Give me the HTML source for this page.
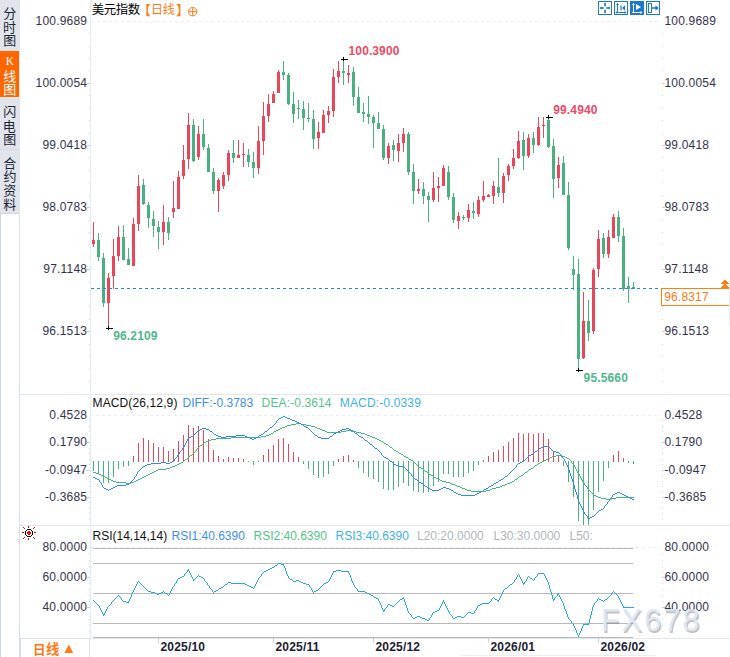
<!DOCTYPE html>
<html><head><meta charset="utf-8"><title>chart</title>
<style>html,body{margin:0;padding:0;background:#fff;width:730px;height:657px;overflow:hidden}</style></head>
<body>
<svg width="730" height="657" viewBox="0 0 730 657" style="position:absolute;left:0;top:0;font-family:'Liberation Sans',sans-serif">
<rect width="730" height="657" fill="#fff"/>
<g shape-rendering="crispEdges">
<rect x="0" y="0" width="20" height="213" fill="#e2e4ec"/>
<rect x="0" y="51" width="19" height="46" fill="#ff6600"/>
<rect x="0" y="149" width="20" height="1" fill="#d4dce4"/>
<rect x="0" y="213" width="20" height="1" fill="#ced6df"/>
<rect x="0" y="213" width="1" height="444" fill="#ccd4dd"/>
<rect x="19" y="213" width="1" height="444" fill="#d8dee6"/><rect x="20" y="639" width="1" height="18" fill="#d8dee6"/>
<rect x="20" y="394" width="710" height="1" fill="#e3e8ee"/>
<rect x="20" y="525" width="710" height="1" fill="#e3e8ee"/>
<rect x="20" y="638" width="710" height="1" fill="#e3e8ee"/>
<rect x="461" y="655" width="195" height="1" fill="#eceff3"/>
<rect x="90" y="0" width="1" height="638" fill="#e4ebf1"/>
<rect x="89" y="638" width="1" height="19" fill="#dde1e8"/>
<rect x="729" y="280" width="1" height="45" fill="#e6eff9"/>
</g>
<text x="3.27" y="17.85" font-family="'Liberation Sans','Noto Sans CJK SC',sans-serif" font-size="13" fill="#1c2636">分</text>
<text x="3.02" y="32.42" font-family="'Liberation Sans','Noto Sans CJK SC',sans-serif" font-size="13" fill="#1c2636">时</text>
<text x="3.29" y="45.3" font-family="'Liberation Sans','Noto Sans CJK SC',sans-serif" font-size="13" fill="#1c2636">图</text>
<text x="10" y="65.3" font-family="'Liberation Serif',serif" font-size="11.5" fill="#fff" text-anchor="middle">K</text>
<text x="3.24" y="80.97" font-family="'Liberation Sans','Noto Sans CJK SC',sans-serif" font-size="13" fill="#fff">线</text>
<text x="3.29" y="94.15" font-family="'Liberation Sans','Noto Sans CJK SC',sans-serif" font-size="13" fill="#fff">图</text>
<text x="3.3" y="116.28" font-family="'Liberation Sans','Noto Sans CJK SC',sans-serif" font-size="13" fill="#1c2636">闪</text>
<text x="2.73" y="130.64" font-family="'Liberation Sans','Noto Sans CJK SC',sans-serif" font-size="13" fill="#1c2636">电</text>
<text x="3.29" y="143.55" font-family="'Liberation Sans','Noto Sans CJK SC',sans-serif" font-size="13" fill="#1c2636">图</text>
<text x="3.24" y="167.97" font-family="'Liberation Sans','Noto Sans CJK SC',sans-serif" font-size="13" fill="#1c2636">合</text>
<text x="3.57" y="181.47" font-family="'Liberation Sans','Noto Sans CJK SC',sans-serif" font-size="13" fill="#1c2636">约</text>
<text x="3.31" y="194.7" font-family="'Liberation Sans','Noto Sans CJK SC',sans-serif" font-size="13" fill="#1c2636">资</text>
<text x="3.32" y="209.25" font-family="'Liberation Sans','Noto Sans CJK SC',sans-serif" font-size="13" fill="#1c2636">料</text>
<text x="91.7" y="14.25" font-family="'Liberation Sans','Noto Sans CJK SC',sans-serif" font-size="12.4" letter-spacing="-0.35" fill="#000">美元指数</text>
<text x="137.63" y="14.92" font-family="'Liberation Sans','Noto Sans CJK SC',sans-serif" font-size="13.2" fill="#ff7a14">【</text>
<text x="151.05" y="14.12" font-family="'Liberation Sans','Noto Sans CJK SC',sans-serif" font-size="12" fill="#ff7a14">日</text>
<text x="162.84" y="14.49" font-family="'Liberation Sans','Noto Sans CJK SC',sans-serif" font-size="12" fill="#ff7a14">线</text>
<text x="176.07" y="14.92" font-family="'Liberation Sans','Noto Sans CJK SC',sans-serif" font-size="13.2" fill="#ff7a14">】</text>
<g stroke="#ff7a14" stroke-width="1" fill="none"><circle cx="192.7" cy="11.7" r="4.2"/><path d="M188.5 11.7h8.4M192.7 7.5v8.4"/></g>
<rect x="598.5" y="1.5" width="13" height="13" fill="#fff" stroke="#1c78d2" stroke-width="1"/>
<g fill="#1c78d2"><rect x="600" y="7.1" width="3.5" height="1.8"/><rect x="606.5" y="7.1" width="3.5" height="1.8"/><rect x="604.2" y="3" width="1.7" height="3.3"/><rect x="604.2" y="9.7" width="1.7" height="3.3"/></g>
<rect x="614.5" y="1.5" width="13" height="13" fill="#fff" stroke="#1c78d2" stroke-width="1"/>
<g stroke="#1c78d2" fill="none" stroke-width="1"><path d="M617.5 3.5v9.5M616 12.5h10"/><path d="M621 5.5v5" stroke-width="1.2"/></g><path d="M616 5l1.5-2 1.5 2zM624.5 11l2 1.5-2 1.5zM616.5 11l-1 1.5 1 1.5zM625 5.3v5.4l-3-2.7z" fill="#1c78d2"/>
<rect x="630.5" y="1.5" width="13" height="13" fill="#1c78d2" stroke="#1c78d2" stroke-width="1"/>
<g stroke="#fff" fill="none" stroke-width="1"><path d="M633.5 3.5v9.5M632 12.5h10"/></g><path d="M632 5l1.5-2 1.5 2zM640.5 11l2 1.5-2 1.5zM636 3.9v6l5-3z" fill="#fff"/>
<rect x="646.5" y="1.5" width="13" height="13" fill="#fff" stroke="#1c78d2" stroke-width="1"/>
<rect x="648.5" y="3.5" width="3" height="9" fill="none" stroke="#1c78d2" stroke-width="1"/><path d="M651.5 8h5" stroke="#1c78d2" stroke-width="1.6"/><path d="M655.5 5.2l3.2 2.8-3.2 2.8z" fill="#1c78d2"/>
<text x="87.2" y="24.9" font-size="12" letter-spacing=".2" fill="#33334d" text-anchor="end">100.9689</text><text x="664.4" y="24.9" font-size="12" letter-spacing=".2" fill="#33334d">100.9689</text>
<text x="87.2" y="86.9" font-size="12" letter-spacing=".2" fill="#33334d" text-anchor="end">100.0054</text><text x="664.4" y="86.9" font-size="12" letter-spacing=".2" fill="#33334d">100.0054</text>
<rect x="87" y="83" width="3" height="1" fill="#c6d0da" shape-rendering="crispEdges"/><rect x="662" y="83" width="3" height="1" fill="#c6d0da" shape-rendering="crispEdges"/>
<text x="87.2" y="148.9" font-size="12" letter-spacing=".2" fill="#33334d" text-anchor="end">99.0418</text><text x="664.4" y="148.9" font-size="12" letter-spacing=".2" fill="#33334d">99.0418</text>
<rect x="87" y="145" width="3" height="1" fill="#c6d0da" shape-rendering="crispEdges"/><rect x="662" y="145" width="3" height="1" fill="#c6d0da" shape-rendering="crispEdges"/>
<text x="87.2" y="210.9" font-size="12" letter-spacing=".2" fill="#33334d" text-anchor="end">98.0783</text><text x="664.4" y="210.9" font-size="12" letter-spacing=".2" fill="#33334d">98.0783</text>
<rect x="87" y="207" width="3" height="1" fill="#c6d0da" shape-rendering="crispEdges"/><rect x="662" y="207" width="3" height="1" fill="#c6d0da" shape-rendering="crispEdges"/>
<text x="87.2" y="272.9" font-size="12" letter-spacing=".2" fill="#33334d" text-anchor="end">97.1148</text><text x="664.4" y="272.9" font-size="12" letter-spacing=".2" fill="#33334d">97.1148</text>
<rect x="87" y="269" width="3" height="1" fill="#c6d0da" shape-rendering="crispEdges"/><rect x="662" y="269" width="3" height="1" fill="#c6d0da" shape-rendering="crispEdges"/>
<text x="87.2" y="334.9" font-size="12" letter-spacing=".2" fill="#33334d" text-anchor="end">96.1513</text><text x="664.4" y="334.9" font-size="12" letter-spacing=".2" fill="#33334d">96.1513</text>
<rect x="87" y="331" width="3" height="1" fill="#c6d0da" shape-rendering="crispEdges"/><rect x="662" y="331" width="3" height="1" fill="#c6d0da" shape-rendering="crispEdges"/>
<g shape-rendering="crispEdges"><rect x="89" y="33" width="1" height="1" fill="#cdd6df"/><rect x="662" y="33" width="1" height="1" fill="#cdd6df"/><rect x="89" y="46" width="1" height="1" fill="#cdd6df"/><rect x="662" y="46" width="1" height="1" fill="#cdd6df"/><rect x="89" y="58" width="1" height="1" fill="#cdd6df"/><rect x="662" y="58" width="1" height="1" fill="#cdd6df"/><rect x="89" y="70" width="1" height="1" fill="#cdd6df"/><rect x="662" y="70" width="1" height="1" fill="#cdd6df"/><rect x="89" y="95" width="1" height="1" fill="#cdd6df"/><rect x="662" y="95" width="1" height="1" fill="#cdd6df"/><rect x="89" y="108" width="1" height="1" fill="#cdd6df"/><rect x="662" y="108" width="1" height="1" fill="#cdd6df"/><rect x="89" y="120" width="1" height="1" fill="#cdd6df"/><rect x="662" y="120" width="1" height="1" fill="#cdd6df"/><rect x="89" y="133" width="1" height="1" fill="#cdd6df"/><rect x="662" y="133" width="1" height="1" fill="#cdd6df"/><rect x="89" y="157" width="1" height="1" fill="#cdd6df"/><rect x="662" y="157" width="1" height="1" fill="#cdd6df"/><rect x="89" y="170" width="1" height="1" fill="#cdd6df"/><rect x="662" y="170" width="1" height="1" fill="#cdd6df"/><rect x="89" y="182" width="1" height="1" fill="#cdd6df"/><rect x="662" y="182" width="1" height="1" fill="#cdd6df"/><rect x="89" y="195" width="1" height="1" fill="#cdd6df"/><rect x="662" y="195" width="1" height="1" fill="#cdd6df"/><rect x="89" y="220" width="1" height="1" fill="#cdd6df"/><rect x="662" y="220" width="1" height="1" fill="#cdd6df"/><rect x="89" y="232" width="1" height="1" fill="#cdd6df"/><rect x="662" y="232" width="1" height="1" fill="#cdd6df"/><rect x="89" y="244" width="1" height="1" fill="#cdd6df"/><rect x="662" y="244" width="1" height="1" fill="#cdd6df"/><rect x="89" y="257" width="1" height="1" fill="#cdd6df"/><rect x="662" y="257" width="1" height="1" fill="#cdd6df"/><rect x="89" y="282" width="1" height="1" fill="#cdd6df"/><rect x="662" y="282" width="1" height="1" fill="#cdd6df"/><rect x="89" y="294" width="1" height="1" fill="#cdd6df"/><rect x="662" y="294" width="1" height="1" fill="#cdd6df"/><rect x="89" y="306" width="1" height="1" fill="#cdd6df"/><rect x="662" y="306" width="1" height="1" fill="#cdd6df"/><rect x="89" y="319" width="1" height="1" fill="#cdd6df"/><rect x="662" y="319" width="1" height="1" fill="#cdd6df"/><rect x="89" y="344" width="1" height="1" fill="#cdd6df"/><rect x="662" y="344" width="1" height="1" fill="#cdd6df"/><rect x="89" y="356" width="1" height="1" fill="#cdd6df"/><rect x="662" y="356" width="1" height="1" fill="#cdd6df"/><rect x="89" y="369" width="1" height="1" fill="#cdd6df"/><rect x="662" y="369" width="1" height="1" fill="#cdd6df"/><rect x="89" y="381" width="1" height="1" fill="#cdd6df"/><rect x="662" y="381" width="1" height="1" fill="#cdd6df"/></g>
<line x1="91" y1="21.5" x2="661" y2="21.5" stroke="#e9eef3" stroke-width="1" stroke-dasharray="3 3"/>
<line x1="90" y1="415.5" x2="661" y2="415.5" stroke="#e9eef3" stroke-width="1" stroke-dasharray="3 3"/>
<line x1="90" y1="547.5" x2="661" y2="547.5" stroke="#e9eef3" stroke-width="1" stroke-dasharray="3 3"/>
<g shape-rendering="crispEdges">
<rect x="93" y="222" width="1" height="25" fill="#e9465b"/><rect x="92" y="240" width="3" height="4" fill="#e9465b"/>
<rect x="98" y="233" width="1" height="28" fill="#4bb07f"/><rect x="97" y="240" width="3" height="17" fill="#4bb07f"/>
<rect x="103" y="253" width="1" height="54" fill="#4bb07f"/><rect x="102" y="258" width="3" height="45" fill="#4bb07f"/>
<rect x="108" y="273" width="1" height="55" fill="#e9465b"/><rect x="107" y="278" width="3" height="25" fill="#e9465b"/>
<rect x="113" y="239" width="1" height="50" fill="#e9465b"/><rect x="112" y="256" width="3" height="20" fill="#e9465b"/>
<rect x="118" y="226" width="1" height="35" fill="#e9465b"/><rect x="117" y="237" width="3" height="19" fill="#e9465b"/>
<rect x="123" y="225" width="1" height="35" fill="#4bb07f"/><rect x="122" y="237" width="3" height="23" fill="#4bb07f"/>
<rect x="128" y="248" width="1" height="17" fill="#4bb07f"/><rect x="127" y="259" width="3" height="6" fill="#4bb07f"/>
<rect x="133" y="218" width="1" height="48" fill="#e9465b"/><rect x="132" y="224" width="3" height="42" fill="#e9465b"/>
<rect x="138" y="175" width="1" height="56" fill="#e9465b"/><rect x="137" y="186" width="3" height="38" fill="#e9465b"/>
<rect x="143" y="179" width="1" height="26" fill="#4bb07f"/><rect x="142" y="185" width="3" height="19" fill="#4bb07f"/>
<rect x="148" y="202" width="1" height="26" fill="#4bb07f"/><rect x="147" y="205" width="3" height="13" fill="#4bb07f"/>
<rect x="153" y="211" width="1" height="26" fill="#4bb07f"/><rect x="152" y="219" width="3" height="7" fill="#4bb07f"/>
<rect x="158" y="221" width="1" height="28" fill="#4bb07f"/><rect x="157" y="227" width="3" height="5" fill="#4bb07f"/>
<rect x="163" y="205" width="1" height="40" fill="#e9465b"/><rect x="162" y="222" width="3" height="10" fill="#e9465b"/>
<rect x="168" y="217" width="1" height="23" fill="#4bb07f"/><rect x="167" y="222" width="3" height="11" fill="#4bb07f"/>
<rect x="173" y="181" width="1" height="37" fill="#e9465b"/><rect x="172" y="208" width="3" height="4" fill="#e9465b"/>
<rect x="178" y="171" width="1" height="38" fill="#e9465b"/><rect x="177" y="177" width="3" height="32" fill="#e9465b"/>
<rect x="183" y="145" width="1" height="34" fill="#e9465b"/><rect x="182" y="160" width="3" height="16" fill="#e9465b"/>
<rect x="188" y="113" width="1" height="56" fill="#e9465b"/><rect x="187" y="125" width="3" height="34" fill="#e9465b"/>
<rect x="193" y="119" width="1" height="43" fill="#4bb07f"/><rect x="192" y="125" width="3" height="36" fill="#4bb07f"/>
<rect x="198" y="126" width="1" height="34" fill="#e9465b"/><rect x="197" y="134" width="3" height="23" fill="#e9465b"/>
<rect x="203" y="119" width="1" height="31" fill="#4bb07f"/><rect x="202" y="134" width="3" height="13" fill="#4bb07f"/>
<rect x="208" y="144" width="1" height="28" fill="#4bb07f"/><rect x="207" y="148" width="3" height="24" fill="#4bb07f"/>
<rect x="213" y="168" width="1" height="26" fill="#4bb07f"/><rect x="212" y="172" width="3" height="19" fill="#4bb07f"/>
<rect x="218" y="178" width="1" height="34" fill="#e9465b"/><rect x="217" y="180" width="3" height="11" fill="#e9465b"/>
<rect x="223" y="172" width="1" height="17" fill="#e9465b"/><rect x="222" y="175" width="3" height="11" fill="#e9465b"/>
<rect x="228" y="150" width="1" height="31" fill="#e9465b"/><rect x="227" y="153" width="3" height="22" fill="#e9465b"/>
<rect x="233" y="140" width="1" height="23" fill="#4bb07f"/><rect x="232" y="153" width="3" height="5" fill="#4bb07f"/>
<rect x="238" y="140" width="1" height="18" fill="#e9465b"/><rect x="237" y="155" width="3" height="3" fill="#e9465b"/>
<rect x="243" y="143" width="1" height="24" fill="#e9465b"/><rect x="242" y="154" width="3" height="1" fill="#e9465b"/>
<rect x="248" y="149" width="1" height="18" fill="#4bb07f"/><rect x="247" y="155" width="3" height="7" fill="#4bb07f"/>
<rect x="253" y="152" width="1" height="26" fill="#4bb07f"/><rect x="252" y="162" width="3" height="6" fill="#4bb07f"/>
<rect x="258" y="126" width="1" height="48" fill="#e9465b"/><rect x="257" y="141" width="3" height="27" fill="#e9465b"/>
<rect x="263" y="102" width="1" height="53" fill="#e9465b"/><rect x="262" y="116" width="3" height="25" fill="#e9465b"/>
<rect x="268" y="94" width="1" height="28" fill="#e9465b"/><rect x="267" y="104" width="3" height="12" fill="#e9465b"/>
<rect x="273" y="91" width="1" height="12" fill="#e9465b"/><rect x="272" y="94" width="3" height="9" fill="#e9465b"/>
<rect x="278" y="70" width="1" height="23" fill="#e9465b"/><rect x="277" y="72" width="3" height="21" fill="#e9465b"/>
<rect x="283" y="61" width="1" height="19" fill="#4bb07f"/><rect x="282" y="72" width="3" height="3" fill="#4bb07f"/>
<rect x="288" y="73" width="1" height="32" fill="#4bb07f"/><rect x="287" y="75" width="3" height="29" fill="#4bb07f"/>
<rect x="293" y="92" width="1" height="31" fill="#4bb07f"/><rect x="292" y="104" width="3" height="10" fill="#4bb07f"/>
<rect x="298" y="100" width="1" height="19" fill="#4bb07f"/><rect x="297" y="108" width="3" height="1" fill="#4bb07f"/>
<rect x="303" y="101" width="1" height="29" fill="#4bb07f"/><rect x="302" y="109" width="3" height="9" fill="#4bb07f"/>
<rect x="308" y="103" width="1" height="19" fill="#4bb07f"/><rect x="307" y="118" width="3" height="1" fill="#4bb07f"/>
<rect x="313" y="110" width="1" height="39" fill="#4bb07f"/><rect x="312" y="119" width="3" height="20" fill="#4bb07f"/>
<rect x="318" y="122" width="1" height="27" fill="#e9465b"/><rect x="317" y="132" width="3" height="6" fill="#e9465b"/>
<rect x="323" y="110" width="1" height="23" fill="#e9465b"/><rect x="322" y="115" width="3" height="18" fill="#e9465b"/>
<rect x="328" y="106" width="1" height="17" fill="#e9465b"/><rect x="327" y="111" width="3" height="4" fill="#e9465b"/>
<rect x="333" y="69" width="1" height="48" fill="#e9465b"/><rect x="332" y="77" width="3" height="34" fill="#e9465b"/>
<rect x="338" y="61" width="1" height="22" fill="#e9465b"/><rect x="337" y="71" width="3" height="6" fill="#e9465b"/>
<rect x="343" y="59" width="1" height="26" fill="#4bb07f"/><rect x="342" y="71" width="3" height="2" fill="#4bb07f"/>
<rect x="348" y="65" width="1" height="18" fill="#e9465b"/><rect x="347" y="73" width="3" height="2" fill="#e9465b"/>
<rect x="353" y="67" width="1" height="39" fill="#4bb07f"/><rect x="352" y="72" width="3" height="25" fill="#4bb07f"/>
<rect x="358" y="87" width="1" height="26" fill="#4bb07f"/><rect x="357" y="97" width="3" height="16" fill="#4bb07f"/>
<rect x="363" y="103" width="1" height="19" fill="#4bb07f"/><rect x="362" y="112" width="3" height="2" fill="#4bb07f"/>
<rect x="368" y="96" width="1" height="28" fill="#4bb07f"/><rect x="367" y="114" width="3" height="3" fill="#4bb07f"/>
<rect x="373" y="115" width="1" height="33" fill="#4bb07f"/><rect x="372" y="117" width="3" height="6" fill="#4bb07f"/>
<rect x="378" y="112" width="1" height="17" fill="#4bb07f"/><rect x="377" y="123" width="3" height="6" fill="#4bb07f"/>
<rect x="383" y="125" width="1" height="35" fill="#4bb07f"/><rect x="382" y="129" width="3" height="29" fill="#4bb07f"/>
<rect x="388" y="143" width="1" height="21" fill="#e9465b"/><rect x="387" y="146" width="3" height="12" fill="#e9465b"/>
<rect x="393" y="140" width="1" height="21" fill="#4bb07f"/><rect x="392" y="145" width="3" height="5" fill="#4bb07f"/>
<rect x="398" y="134" width="1" height="28" fill="#e9465b"/><rect x="397" y="143" width="3" height="8" fill="#e9465b"/>
<rect x="403" y="128" width="1" height="24" fill="#e9465b"/><rect x="402" y="134" width="3" height="9" fill="#e9465b"/>
<rect x="408" y="132" width="1" height="43" fill="#4bb07f"/><rect x="407" y="134" width="3" height="38" fill="#4bb07f"/>
<rect x="413" y="164" width="1" height="40" fill="#4bb07f"/><rect x="412" y="172" width="3" height="19" fill="#4bb07f"/>
<rect x="418" y="179" width="1" height="15" fill="#e9465b"/><rect x="417" y="189" width="3" height="2" fill="#e9465b"/>
<rect x="423" y="182" width="1" height="22" fill="#4bb07f"/><rect x="422" y="189" width="3" height="7" fill="#4bb07f"/>
<rect x="428" y="192" width="1" height="30" fill="#4bb07f"/><rect x="427" y="196" width="3" height="4" fill="#4bb07f"/>
<rect x="433" y="172" width="1" height="30" fill="#e9465b"/><rect x="432" y="188" width="3" height="12" fill="#e9465b"/>
<rect x="438" y="177" width="1" height="25" fill="#e9465b"/><rect x="437" y="186" width="3" height="2" fill="#e9465b"/>
<rect x="443" y="165" width="1" height="21" fill="#e9465b"/><rect x="442" y="168" width="3" height="18" fill="#e9465b"/>
<rect x="448" y="166" width="1" height="34" fill="#4bb07f"/><rect x="447" y="172" width="3" height="25" fill="#4bb07f"/>
<rect x="453" y="193" width="1" height="30" fill="#4bb07f"/><rect x="452" y="197" width="3" height="23" fill="#4bb07f"/>
<rect x="458" y="212" width="1" height="17" fill="#e9465b"/><rect x="457" y="216" width="3" height="5" fill="#e9465b"/>
<rect x="463" y="215" width="1" height="5" fill="#4bb07f"/><rect x="462" y="217" width="3" height="1" fill="#4bb07f"/>
<rect x="468" y="204" width="1" height="18" fill="#e9465b"/><rect x="467" y="210" width="3" height="8" fill="#e9465b"/>
<rect x="473" y="202" width="1" height="17" fill="#4bb07f"/><rect x="472" y="211" width="3" height="2" fill="#4bb07f"/>
<rect x="478" y="196" width="1" height="21" fill="#e9465b"/><rect x="477" y="200" width="3" height="14" fill="#e9465b"/>
<rect x="483" y="181" width="1" height="21" fill="#e9465b"/><rect x="482" y="196" width="3" height="4" fill="#e9465b"/>
<rect x="488" y="194" width="1" height="3" fill="#e9465b"/><rect x="487" y="195" width="3" height="2" fill="#e9465b"/>
<rect x="493" y="181" width="1" height="23" fill="#e9465b"/><rect x="492" y="186" width="3" height="10" fill="#e9465b"/>
<rect x="498" y="158" width="1" height="39" fill="#4bb07f"/><rect x="497" y="187" width="3" height="6" fill="#4bb07f"/>
<rect x="503" y="173" width="1" height="30" fill="#e9465b"/><rect x="502" y="176" width="3" height="17" fill="#e9465b"/>
<rect x="508" y="164" width="1" height="17" fill="#e9465b"/><rect x="507" y="166" width="3" height="9" fill="#e9465b"/>
<rect x="513" y="149" width="1" height="20" fill="#e9465b"/><rect x="512" y="158" width="3" height="8" fill="#e9465b"/>
<rect x="518" y="131" width="1" height="28" fill="#e9465b"/><rect x="517" y="141" width="3" height="17" fill="#e9465b"/>
<rect x="523" y="132" width="1" height="38" fill="#4bb07f"/><rect x="522" y="140" width="3" height="16" fill="#4bb07f"/>
<rect x="528" y="134" width="1" height="24" fill="#e9465b"/><rect x="527" y="138" width="3" height="18" fill="#e9465b"/>
<rect x="533" y="132" width="1" height="21" fill="#4bb07f"/><rect x="532" y="138" width="3" height="7" fill="#4bb07f"/>
<rect x="538" y="117" width="1" height="29" fill="#e9465b"/><rect x="537" y="127" width="3" height="18" fill="#e9465b"/>
<rect x="543" y="117" width="1" height="21" fill="#e9465b"/><rect x="542" y="125" width="3" height="1" fill="#e9465b"/>
<rect x="548" y="117" width="1" height="31" fill="#4bb07f"/><rect x="547" y="120" width="3" height="27" fill="#4bb07f"/>
<rect x="553" y="139" width="1" height="59" fill="#4bb07f"/><rect x="552" y="146" width="3" height="33" fill="#4bb07f"/>
<rect x="558" y="157" width="1" height="31" fill="#e9465b"/><rect x="557" y="165" width="3" height="13" fill="#e9465b"/>
<rect x="563" y="156" width="1" height="39" fill="#4bb07f"/><rect x="562" y="163" width="3" height="32" fill="#4bb07f"/>
<rect x="568" y="182" width="1" height="68" fill="#4bb07f"/><rect x="567" y="195" width="3" height="53" fill="#4bb07f"/>
<rect x="573" y="256" width="1" height="34" fill="#4bb07f"/><rect x="572" y="269" width="3" height="6" fill="#4bb07f"/>
<rect x="578" y="259" width="1" height="112" fill="#4bb07f"/><rect x="577" y="274" width="3" height="85" fill="#4bb07f"/>
<rect x="583" y="292" width="1" height="67" fill="#e9465b"/><rect x="582" y="321" width="3" height="37" fill="#e9465b"/>
<rect x="588" y="300" width="1" height="41" fill="#4bb07f"/><rect x="587" y="321" width="3" height="12" fill="#4bb07f"/>
<rect x="593" y="268" width="1" height="66" fill="#e9465b"/><rect x="592" y="270" width="3" height="61" fill="#e9465b"/>
<rect x="598" y="230" width="1" height="47" fill="#e9465b"/><rect x="597" y="239" width="3" height="30" fill="#e9465b"/>
<rect x="603" y="233" width="1" height="25" fill="#4bb07f"/><rect x="602" y="238" width="3" height="16" fill="#4bb07f"/>
<rect x="608" y="230" width="1" height="28" fill="#e9465b"/><rect x="607" y="237" width="3" height="17" fill="#e9465b"/>
<rect x="613" y="214" width="1" height="24" fill="#e9465b"/><rect x="612" y="217" width="3" height="21" fill="#e9465b"/>
<rect x="618" y="211" width="1" height="31" fill="#4bb07f"/><rect x="617" y="217" width="3" height="19" fill="#4bb07f"/>
<rect x="623" y="228" width="1" height="63" fill="#4bb07f"/><rect x="622" y="236" width="3" height="53" fill="#4bb07f"/>
<rect x="628" y="277" width="1" height="26" fill="#4bb07f"/><rect x="627" y="286" width="3" height="3" fill="#4bb07f"/>
<rect x="633" y="282" width="1" height="7" fill="#4bb07f"/><rect x="632" y="287" width="3" height="2" fill="#4bb07f"/>
</g>
<line x1="91" y1="288.5" x2="662" y2="288.5" stroke="#1e88e5" stroke-width="1" stroke-dasharray="3 3"/>
<g shape-rendering="crispEdges" fill="#000"><rect x="341" y="59" width="7" height="1"/><rect x="343" y="57" width="1" height="4"/></g>
<g shape-rendering="crispEdges" fill="#000"><rect x="546" y="117" width="7" height="1"/><rect x="548" y="115" width="1" height="4"/></g>
<g shape-rendering="crispEdges" fill="#000"><rect x="106" y="328" width="7" height="1"/><rect x="108" y="326" width="1" height="4"/></g>
<g shape-rendering="crispEdges" fill="#000"><rect x="576" y="370" width="7" height="1"/><rect x="578" y="368" width="1" height="4"/></g>
<text x="348.6" y="55.2" font-size="12" font-weight="bold" letter-spacing=".1" fill="#ef4a66">100.3900</text>
<text x="553.2" y="113.6" font-size="12" font-weight="bold" letter-spacing=".15" fill="#ef4a66">99.4940</text>
<text x="113.2" y="339.8" font-size="12" font-weight="bold" letter-spacing=".15" fill="#50b78c">96.2109</text>
<text x="583.6" y="381.8" font-size="12" font-weight="bold" letter-spacing=".15" fill="#50b78c">95.5660</text>
<path d="M729 288.5H661.5V305.5H729" fill="#fff" stroke="#ff8210" stroke-width="1"/>
<text x="664.3" y="301" font-size="12" letter-spacing=".15" fill="#ff7a14">96.8317</text>
<g shape-rendering="crispEdges"><rect x="724" y="280" width="2" height="1" fill="#ff7f0e"/><rect x="723" y="281" width="4" height="1" fill="#ff7f0e"/><rect x="722" y="282" width="6" height="1" fill="#ff7f0e"/><rect x="721" y="283" width="8" height="1" fill="#ff7f0e"/><rect x="724" y="284" width="2" height="1" fill="#ff7f0e"/><rect x="723" y="285" width="4" height="1" fill="#ff7f0e"/><rect x="722" y="286" width="6" height="1" fill="#ff7f0e"/><rect x="721" y="287" width="8" height="1" fill="#ff7f0e"/></g>
<text x="92.5" y="407.3" font-size="12" letter-spacing=".13" fill="#111">MACD(26,12,9)</text>
<text x="182.5" y="407.3" font-size="12" fill="#3d8ef0">DIFF:-0.3783</text>
<text x="261.6" y="407.3" font-size="12" letter-spacing=".12" fill="#52c48c">DEA:-0.3614</text>
<text x="339.8" y="407.3" font-size="12" letter-spacing=".15" fill="#3fb0ea">MACD:-0.0339</text>
<text x="87.2" y="418.7" font-size="12" letter-spacing=".2" fill="#33334d" text-anchor="end">0.4528</text><text x="664.4" y="418.7" font-size="12" letter-spacing=".2" fill="#33334d">0.4528</text>
<text x="87.2" y="445.7" font-size="12" letter-spacing=".2" fill="#33334d" text-anchor="end">0.1790</text><text x="664.4" y="445.7" font-size="12" letter-spacing=".2" fill="#33334d">0.1790</text>
<rect x="87" y="442" width="3" height="1" fill="#c6d0da" shape-rendering="crispEdges"/><rect x="662" y="442" width="3" height="1" fill="#c6d0da" shape-rendering="crispEdges"/>
<text x="87.2" y="473.7" font-size="12" letter-spacing=".2" fill="#33334d" text-anchor="end">-0.0947</text><text x="664.4" y="473.7" font-size="12" letter-spacing=".2" fill="#33334d">-0.0947</text>
<rect x="87" y="470" width="3" height="1" fill="#c6d0da" shape-rendering="crispEdges"/><rect x="662" y="470" width="3" height="1" fill="#c6d0da" shape-rendering="crispEdges"/>
<text x="87.2" y="500.7" font-size="12" letter-spacing=".2" fill="#33334d" text-anchor="end">-0.3685</text><text x="664.4" y="500.7" font-size="12" letter-spacing=".2" fill="#33334d">-0.3685</text>
<rect x="87" y="497" width="3" height="1" fill="#c6d0da" shape-rendering="crispEdges"/><rect x="662" y="497" width="3" height="1" fill="#c6d0da" shape-rendering="crispEdges"/>
<g shape-rendering="crispEdges"><rect x="89" y="420" width="1" height="1" fill="#cdd6df"/><rect x="662" y="420" width="1" height="1" fill="#cdd6df"/><rect x="89" y="426" width="1" height="1" fill="#cdd6df"/><rect x="662" y="426" width="1" height="1" fill="#cdd6df"/><rect x="89" y="431" width="1" height="1" fill="#cdd6df"/><rect x="662" y="431" width="1" height="1" fill="#cdd6df"/><rect x="89" y="437" width="1" height="1" fill="#cdd6df"/><rect x="662" y="437" width="1" height="1" fill="#cdd6df"/><rect x="89" y="448" width="1" height="1" fill="#cdd6df"/><rect x="662" y="448" width="1" height="1" fill="#cdd6df"/><rect x="89" y="453" width="1" height="1" fill="#cdd6df"/><rect x="662" y="453" width="1" height="1" fill="#cdd6df"/><rect x="89" y="459" width="1" height="1" fill="#cdd6df"/><rect x="662" y="459" width="1" height="1" fill="#cdd6df"/><rect x="89" y="464" width="1" height="1" fill="#cdd6df"/><rect x="662" y="464" width="1" height="1" fill="#cdd6df"/><rect x="89" y="475" width="1" height="1" fill="#cdd6df"/><rect x="662" y="475" width="1" height="1" fill="#cdd6df"/><rect x="89" y="481" width="1" height="1" fill="#cdd6df"/><rect x="662" y="481" width="1" height="1" fill="#cdd6df"/><rect x="89" y="486" width="1" height="1" fill="#cdd6df"/><rect x="662" y="486" width="1" height="1" fill="#cdd6df"/><rect x="89" y="492" width="1" height="1" fill="#cdd6df"/><rect x="662" y="492" width="1" height="1" fill="#cdd6df"/><rect x="89" y="502" width="1" height="1" fill="#cdd6df"/><rect x="662" y="502" width="1" height="1" fill="#cdd6df"/><rect x="89" y="508" width="1" height="1" fill="#cdd6df"/><rect x="662" y="508" width="1" height="1" fill="#cdd6df"/><rect x="89" y="513" width="1" height="1" fill="#cdd6df"/><rect x="662" y="513" width="1" height="1" fill="#cdd6df"/><rect x="89" y="519" width="1" height="1" fill="#cdd6df"/><rect x="662" y="519" width="1" height="1" fill="#cdd6df"/></g>
<g shape-rendering="crispEdges">
<rect x="93" y="461" width="1" height="10" fill="#4bb07f"/>
<rect x="98" y="461" width="1" height="12" fill="#4bb07f"/>
<rect x="103" y="461" width="1" height="22" fill="#4bb07f"/>
<rect x="108" y="461" width="1" height="22" fill="#4bb07f"/>
<rect x="113" y="461" width="1" height="16" fill="#4bb07f"/>
<rect x="118" y="461" width="1" height="8" fill="#4bb07f"/>
<rect x="123" y="461" width="1" height="6" fill="#4bb07f"/>
<rect x="128" y="461" width="1" height="5" fill="#4bb07f"/>
<rect x="133" y="456" width="1" height="6" fill="#e9465b"/>
<rect x="138" y="443" width="1" height="19" fill="#e9465b"/>
<rect x="143" y="438" width="1" height="24" fill="#e9465b"/>
<rect x="148" y="440" width="1" height="22" fill="#e9465b"/>
<rect x="153" y="443" width="1" height="19" fill="#e9465b"/>
<rect x="158" y="447" width="1" height="15" fill="#e9465b"/>
<rect x="163" y="447" width="1" height="15" fill="#e9465b"/>
<rect x="168" y="451" width="1" height="11" fill="#e9465b"/>
<rect x="173" y="449" width="1" height="13" fill="#e9465b"/>
<rect x="178" y="441" width="1" height="21" fill="#e9465b"/>
<rect x="183" y="435" width="1" height="27" fill="#e9465b"/>
<rect x="188" y="425" width="1" height="37" fill="#e9465b"/>
<rect x="193" y="428" width="1" height="34" fill="#e9465b"/>
<rect x="198" y="426" width="1" height="36" fill="#e9465b"/>
<rect x="203" y="430" width="1" height="32" fill="#e9465b"/>
<rect x="208" y="439" width="1" height="23" fill="#e9465b"/>
<rect x="213" y="450" width="1" height="12" fill="#e9465b"/>
<rect x="218" y="456" width="1" height="6" fill="#e9465b"/>
<rect x="223" y="459" width="1" height="3" fill="#e9465b"/>
<rect x="228" y="457" width="1" height="5" fill="#e9465b"/>
<rect x="233" y="458" width="1" height="4" fill="#e9465b"/>
<rect x="238" y="458" width="1" height="4" fill="#e9465b"/>
<rect x="243" y="459" width="1" height="3" fill="#e9465b"/>
<rect x="248" y="461" width="1" height="1" fill="#4bb07f"/>
<rect x="253" y="461" width="1" height="4" fill="#4bb07f"/>
<rect x="258" y="461" width="1" height="1" fill="#4bb07f"/>
<rect x="263" y="455" width="1" height="7" fill="#e9465b"/>
<rect x="268" y="449" width="1" height="13" fill="#e9465b"/>
<rect x="273" y="445" width="1" height="17" fill="#e9465b"/>
<rect x="278" y="439" width="1" height="23" fill="#e9465b"/>
<rect x="283" y="438" width="1" height="24" fill="#e9465b"/>
<rect x="288" y="444" width="1" height="18" fill="#e9465b"/>
<rect x="293" y="452" width="1" height="10" fill="#e9465b"/>
<rect x="298" y="457" width="1" height="5" fill="#e9465b"/>
<rect x="303" y="461" width="1" height="3" fill="#4bb07f"/>
<rect x="308" y="461" width="1" height="8" fill="#4bb07f"/>
<rect x="313" y="461" width="1" height="14" fill="#4bb07f"/>
<rect x="318" y="461" width="1" height="17" fill="#4bb07f"/>
<rect x="323" y="461" width="1" height="16" fill="#4bb07f"/>
<rect x="328" y="461" width="1" height="13" fill="#4bb07f"/>
<rect x="333" y="461" width="1" height="5" fill="#4bb07f"/>
<rect x="338" y="459" width="1" height="3" fill="#e9465b"/>
<rect x="343" y="456" width="1" height="6" fill="#e9465b"/>
<rect x="348" y="455" width="1" height="7" fill="#e9465b"/>
<rect x="353" y="460" width="1" height="2" fill="#e9465b"/>
<rect x="358" y="461" width="1" height="7" fill="#4bb07f"/>
<rect x="363" y="461" width="1" height="12" fill="#4bb07f"/>
<rect x="368" y="461" width="1" height="16" fill="#4bb07f"/>
<rect x="373" y="461" width="1" height="18" fill="#4bb07f"/>
<rect x="378" y="461" width="1" height="21" fill="#4bb07f"/>
<rect x="383" y="461" width="1" height="28" fill="#4bb07f"/>
<rect x="388" y="461" width="1" height="29" fill="#4bb07f"/>
<rect x="393" y="461" width="1" height="29" fill="#4bb07f"/>
<rect x="398" y="461" width="1" height="26" fill="#4bb07f"/>
<rect x="403" y="461" width="1" height="22" fill="#4bb07f"/>
<rect x="408" y="461" width="1" height="25" fill="#4bb07f"/>
<rect x="413" y="461" width="1" height="30" fill="#4bb07f"/>
<rect x="418" y="461" width="1" height="31" fill="#4bb07f"/>
<rect x="423" y="461" width="1" height="32" fill="#4bb07f"/>
<rect x="428" y="461" width="1" height="31" fill="#4bb07f"/>
<rect x="433" y="461" width="1" height="25" fill="#4bb07f"/>
<rect x="438" y="461" width="1" height="21" fill="#4bb07f"/>
<rect x="443" y="461" width="1" height="13" fill="#4bb07f"/>
<rect x="448" y="461" width="1" height="13" fill="#4bb07f"/>
<rect x="453" y="461" width="1" height="16" fill="#4bb07f"/>
<rect x="458" y="461" width="1" height="16" fill="#4bb07f"/>
<rect x="463" y="461" width="1" height="16" fill="#4bb07f"/>
<rect x="468" y="461" width="1" height="12" fill="#4bb07f"/>
<rect x="473" y="461" width="1" height="10" fill="#4bb07f"/>
<rect x="478" y="461" width="1" height="4" fill="#4bb07f"/>
<rect x="483" y="460" width="1" height="2" fill="#e9465b"/>
<rect x="488" y="456" width="1" height="6" fill="#e9465b"/>
<rect x="493" y="452" width="1" height="10" fill="#e9465b"/>
<rect x="498" y="450" width="1" height="12" fill="#e9465b"/>
<rect x="503" y="446" width="1" height="16" fill="#e9465b"/>
<rect x="508" y="442" width="1" height="20" fill="#e9465b"/>
<rect x="513" y="438" width="1" height="24" fill="#e9465b"/>
<rect x="518" y="433" width="1" height="29" fill="#e9465b"/>
<rect x="523" y="434" width="1" height="28" fill="#e9465b"/>
<rect x="528" y="433" width="1" height="29" fill="#e9465b"/>
<rect x="533" y="434" width="1" height="28" fill="#e9465b"/>
<rect x="538" y="433" width="1" height="29" fill="#e9465b"/>
<rect x="543" y="433" width="1" height="29" fill="#e9465b"/>
<rect x="548" y="439" width="1" height="23" fill="#e9465b"/>
<rect x="553" y="452" width="1" height="10" fill="#e9465b"/>
<rect x="558" y="456" width="1" height="6" fill="#e9465b"/>
<rect x="563" y="461" width="1" height="5" fill="#4bb07f"/>
<rect x="568" y="461" width="1" height="21" fill="#4bb07f"/>
<rect x="573" y="461" width="1" height="36" fill="#4bb07f"/>
<rect x="578" y="461" width="1" height="60" fill="#4bb07f"/>
<rect x="583" y="461" width="1" height="64" fill="#4bb07f"/>
<rect x="588" y="461" width="1" height="64" fill="#4bb07f"/>
<rect x="593" y="461" width="1" height="49" fill="#4bb07f"/>
<rect x="598" y="461" width="1" height="31" fill="#4bb07f"/>
<rect x="603" y="461" width="1" height="20" fill="#4bb07f"/>
<rect x="608" y="461" width="1" height="7" fill="#4bb07f"/>
<rect x="613" y="455" width="1" height="7" fill="#e9465b"/>
<rect x="618" y="451" width="1" height="11" fill="#e9465b"/>
<rect x="623" y="458" width="1" height="4" fill="#e9465b"/>
<rect x="628" y="461" width="1" height="2" fill="#4bb07f"/>
<rect x="633" y="461" width="1" height="3" fill="#4bb07f"/>
</g>
<path d="M296 423h5v1h-5zM291 424h5v1h-5zM301 424h5v1h-5zM287 425h4v1h-4zM306 425h5v1h-5zM285 426h2v1h-2zM311 426h4v1h-4zM282 427h3v1h-3zM315 427h2v1h-2zM280 428h2v1h-2zM317 428h3v1h-3zM278 429h2v1h-2zM320 429h2v1h-2zM276 430h2v1h-2zM322 430h3v1h-3zM346 430h5v1h-5zM274 431h2v1h-2zM325 431h2v1h-2zM341 431h5v1h-5zM351 431h5v1h-5zM327 432h14v1h-14zM356 432h5v1h-5zM271 433h2v1h-2zM361 433h4v1h-4zM269 434h2v1h-2zM365 434h2v1h-2zM266 435h3v1h-3zM367 435h3v1h-3zM261 436h5v1h-5zM370 436h2v1h-2zM231 437h30v1h-30zM372 437h3v1h-3zM216 438h15v1h-15zM375 438h2v1h-2zM211 439h5v1h-5zM377 439h2v1h-2zM208 440h3v1h-3zM379 440h2v1h-2zM206 441h2v1h-2zM381 441h2v1h-2zM204 442h2v1h-2zM384 443h2v1h-2zM386 444h2v1h-2zM200 445h2v1h-2zM390 447h2v1h-2zM394 450h2v1h-2zM396 451h2v1h-2zM399 453h2v1h-2zM401 454h2v1h-2zM190 455h2v1h-2zM556 455h5v1h-5zM404 456h2v1h-2zM552 456h4v1h-4zM561 456h4v1h-4zM406 457h2v1h-2zM550 457h2v1h-2zM565 457h2v1h-2zM548 458h2v1h-2zM567 458h2v1h-2zM185 459h2v1h-2zM409 459h2v1h-2zM546 459h2v1h-2zM411 460h2v1h-2zM544 460h2v1h-2zM542 461h2v1h-2zM181 462h2v1h-2zM540 462h2v1h-2zM179 463h2v1h-2zM538 463h2v1h-2zM177 464h2v1h-2zM175 465h2v1h-2zM535 465h2v1h-2zM172 466h3v1h-3zM170 467h2v1h-2zM419 467h2v1h-2zM166 468h4v1h-4zM421 468h2v1h-2zM531 468h2v1h-2zM158 469h8v1h-8zM529 469h2v1h-2zM156 470h2v1h-2zM154 471h2v1h-2zM425 471h2v1h-2zM93 472h3v1h-3zM152 472h2v1h-2zM525 472h2v1h-2zM96 473h3v1h-3zM150 473h2v1h-2zM99 474h2v1h-2zM148 474h2v1h-2zM429 474h2v1h-2zM101 475h2v1h-2zM146 475h2v1h-2zM431 475h2v1h-2zM521 475h2v1h-2zM103 476h2v1h-2zM144 476h2v1h-2zM519 476h2v1h-2zM105 477h2v1h-2zM142 477h2v1h-2zM434 477h2v1h-2zM107 478h2v1h-2zM140 478h2v1h-2zM436 478h2v1h-2zM109 479h2v1h-2zM138 479h2v1h-2zM438 479h2v1h-2zM515 479h2v1h-2zM111 480h2v1h-2zM136 480h2v1h-2zM440 480h2v1h-2zM113 481h3v1h-3zM134 481h2v1h-2zM442 481h4v1h-4zM512 481h2v1h-2zM116 482h10v1h-10zM131 482h3v1h-3zM446 482h4v1h-4zM510 482h2v1h-2zM126 483h5v1h-5zM450 483h2v1h-2zM507 483h3v1h-3zM452 484h3v1h-3zM505 484h2v1h-2zM455 485h2v1h-2zM502 485h3v1h-3zM457 486h3v1h-3zM500 486h2v1h-2zM460 487h2v1h-2zM496 487h4v1h-4zM462 488h3v1h-3zM492 488h4v1h-4zM465 489h2v1h-2zM490 489h2v1h-2zM467 490h4v1h-4zM486 490h4v1h-4zM471 491h15v1h-15zM594 495h2v1h-2zM596 496h2v1h-2zM598 497h3v1h-3zM616 497h18v1h-18zM601 498h5v1h-5zM611 498h5v1h-5zM606 499h5v1h-5zM183 461h1v1h-1zM184 460h1v1h-1zM187 458h1v1h-1zM188 457h1v1h-1zM189 456h1v1h-1zM192 454h1v1h-1zM193 453h1v1h-1zM194 452h1v1h-1zM195 451h1v1h-1zM196 449h1v2h-1zM197 448h1v1h-1zM198 447h1v1h-1zM199 446h1v1h-1zM202 444h1v1h-1zM203 443h1v1h-1zM273 432h1v1h-1zM383 442h1v1h-1zM388 445h1v1h-1zM389 446h1v1h-1zM392 448h1v1h-1zM393 449h1v1h-1zM398 452h1v1h-1zM403 455h1v1h-1zM408 458h1v1h-1zM413 461h1v1h-1zM414 462h1v1h-1zM415 463h1v1h-1zM416 464h1v1h-1zM417 465h1v1h-1zM418 466h1v1h-1zM423 469h1v1h-1zM424 470h1v1h-1zM427 472h1v1h-1zM428 473h1v1h-1zM433 476h1v1h-1zM514 480h1v1h-1zM517 478h1v1h-1zM518 477h1v1h-1zM523 474h1v1h-1zM524 473h1v1h-1zM527 471h1v1h-1zM528 470h1v1h-1zM533 467h1v1h-1zM534 466h1v1h-1zM537 464h1v1h-1zM569 459h1v1h-1zM570 460h1v1h-1zM571 461h1v2h-1zM572 463h1v1h-1zM573 464h1v1h-1zM574 465h1v2h-1zM575 467h1v2h-1zM576 469h1v2h-1zM577 471h1v2h-1zM578 473h1v1h-1zM579 474h1v2h-1zM580 476h1v2h-1zM581 478h1v2h-1zM582 480h1v2h-1zM583 482h1v1h-1zM584 483h1v2h-1zM585 485h1v1h-1zM586 486h1v1h-1zM587 487h1v2h-1zM588 489h1v1h-1zM589 490h1v1h-1zM590 491h1v1h-1zM591 492h1v1h-1zM592 493h1v1h-1zM593 494h1v1h-1z" fill="#42ba7b" shape-rendering="crispEdges"/>
<path d="M283 416h2v1h-2zM281 417h2v1h-2zM285 417h2v1h-2zM279 418h2v1h-2zM287 418h3v1h-3zM290 419h2v1h-2zM292 420h3v1h-3zM295 421h2v1h-2zM297 422h2v1h-2zM299 423h2v1h-2zM301 424h2v1h-2zM304 426h2v1h-2zM270 427h2v1h-2zM306 427h2v1h-2zM202 428h4v1h-4zM346 428h3v1h-3zM200 429h2v1h-2zM206 429h3v1h-3zM342 429h4v1h-4zM349 429h2v1h-2zM198 430h2v1h-2zM340 430h2v1h-2zM351 430h2v1h-2zM210 431h2v1h-2zM265 431h2v1h-2zM338 431h2v1h-2zM336 432h2v1h-2zM334 433h2v1h-2zM355 433h2v1h-2zM214 434h2v1h-2zM261 434h2v1h-2zM216 435h2v1h-2zM236 435h9v1h-9zM259 435h2v1h-2zM315 435h2v1h-2zM191 436h2v1h-2zM218 436h3v1h-3zM226 436h10v1h-10zM245 436h2v1h-2zM330 436h2v1h-2zM359 436h2v1h-2zM189 437h2v1h-2zM221 437h5v1h-5zM247 437h3v1h-3zM256 437h2v1h-2zM318 437h3v1h-3zM361 437h2v1h-2zM250 438h2v1h-2zM254 438h2v1h-2zM321 438h8v1h-8zM252 439h2v1h-2zM365 440h2v1h-2zM370 444h2v1h-2zM543 446h6v1h-6zM541 447h2v1h-2zM375 448h2v1h-2zM539 448h2v1h-2zM535 451h2v1h-2zM553 451h3v1h-3zM556 452h3v1h-3zM531 454h2v1h-2zM529 455h2v1h-2zM384 457h2v1h-2zM386 458h2v1h-2zM172 461h2v1h-2zM390 461h2v1h-2zM522 461h2v1h-2zM161 462h5v1h-5zM170 462h2v1h-2zM520 462h2v1h-2zM151 463h10v1h-10zM166 463h4v1h-4zM518 463h2v1h-2zM147 464h4v1h-4zM394 464h2v1h-2zM145 465h2v1h-2zM396 465h2v1h-2zM143 466h2v1h-2zM398 466h6v1h-6zM505 476h2v1h-2zM93 477h2v1h-2zM95 478h2v1h-2zM97 479h2v1h-2zM415 479h2v1h-2zM501 479h2v1h-2zM499 480h2v1h-2zM419 482h2v1h-2zM496 482h2v1h-2zM421 483h2v1h-2zM494 483h2v1h-2zM126 484h3v1h-3zM117 485h9v1h-9zM491 485h2v1h-2zM115 486h2v1h-2zM425 486h2v1h-2zM489 486h2v1h-2zM113 487h2v1h-2zM443 487h3v1h-3zM104 488h2v1h-2zM111 488h2v1h-2zM428 488h2v1h-2zM441 488h2v1h-2zM446 488h3v1h-3zM486 488h2v1h-2zM106 489h2v1h-2zM109 489h2v1h-2zM430 489h2v1h-2zM439 489h2v1h-2zM449 489h2v1h-2zM484 489h2v1h-2zM432 490h7v1h-7zM451 490h2v1h-2zM481 491h2v1h-2zM454 492h2v1h-2zM479 492h2v1h-2zM617 492h3v1h-3zM456 493h2v1h-2zM477 493h2v1h-2zM615 493h2v1h-2zM620 493h2v1h-2zM458 494h3v1h-3zM475 494h2v1h-2zM613 494h2v1h-2zM622 494h2v1h-2zM461 495h14v1h-14zM624 495h2v1h-2zM626 496h2v1h-2zM628 497h2v1h-2zM630 498h2v1h-2zM632 499h2v1h-2zM601 509h2v1h-2zM599 510h2v1h-2zM592 516h2v1h-2zM590 517h2v1h-2zM588 518h2v1h-2zM99 480h1v2h-1zM100 482h1v1h-1zM101 483h1v2h-1zM102 485h1v2h-1zM103 487h1v1h-1zM108 490h1v1h-1zM129 483h1v1h-1zM130 482h1v1h-1zM131 481h1v1h-1zM132 480h1v1h-1zM133 479h1v1h-1zM134 477h1v2h-1zM135 476h1v1h-1zM136 474h1v2h-1zM137 472h1v2h-1zM138 471h1v1h-1zM139 470h1v1h-1zM140 469h1v1h-1zM141 468h1v1h-1zM142 467h1v1h-1zM174 459h1v2h-1zM175 458h1v1h-1zM176 457h1v1h-1zM177 455h1v2h-1zM178 454h1v1h-1zM179 452h1v2h-1zM180 451h1v1h-1zM181 450h1v1h-1zM182 448h1v2h-1zM183 447h1v1h-1zM184 445h1v2h-1zM185 443h1v2h-1zM186 441h1v2h-1zM187 439h1v2h-1zM188 438h1v1h-1zM193 435h1v1h-1zM194 434h1v1h-1zM195 433h1v1h-1zM196 432h1v1h-1zM197 431h1v1h-1zM209 430h1v1h-1zM212 432h1v1h-1zM213 433h1v1h-1zM258 436h1v1h-1zM263 433h1v1h-1zM264 432h1v1h-1zM267 430h1v1h-1zM268 429h1v1h-1zM269 428h1v1h-1zM272 426h1v1h-1zM273 425h1v1h-1zM274 424h1v1h-1zM275 423h1v1h-1zM276 421h1v2h-1zM277 420h1v1h-1zM278 419h1v1h-1zM303 425h1v1h-1zM308 428h1v1h-1zM309 429h1v1h-1zM310 430h1v1h-1zM311 431h1v1h-1zM312 432h1v1h-1zM313 433h1v1h-1zM314 434h1v1h-1zM317 436h1v1h-1zM329 437h1v1h-1zM332 435h1v1h-1zM333 434h1v1h-1zM353 431h1v1h-1zM354 432h1v1h-1zM357 434h1v1h-1zM358 435h1v1h-1zM363 438h1v1h-1zM364 439h1v1h-1zM367 441h1v1h-1zM368 442h1v1h-1zM369 443h1v1h-1zM372 445h1v1h-1zM373 446h1v1h-1zM374 447h1v1h-1zM377 449h1v1h-1zM378 450h1v1h-1zM379 451h1v1h-1zM380 452h1v1h-1zM381 453h1v2h-1zM382 455h1v1h-1zM383 456h1v1h-1zM388 459h1v1h-1zM389 460h1v1h-1zM392 462h1v1h-1zM393 463h1v1h-1zM404 467h1v1h-1zM405 468h1v1h-1zM406 469h1v1h-1zM407 470h1v1h-1zM408 471h1v1h-1zM409 472h1v1h-1zM410 473h1v1h-1zM411 474h1v2h-1zM412 476h1v1h-1zM413 477h1v1h-1zM414 478h1v1h-1zM417 480h1v1h-1zM418 481h1v1h-1zM423 484h1v1h-1zM424 485h1v1h-1zM427 487h1v1h-1zM453 491h1v1h-1zM483 490h1v1h-1zM488 487h1v1h-1zM493 484h1v1h-1zM498 481h1v1h-1zM503 478h1v1h-1zM504 477h1v1h-1zM507 475h1v1h-1zM508 474h1v1h-1zM509 473h1v1h-1zM510 472h1v1h-1zM511 471h1v1h-1zM512 470h1v1h-1zM513 469h1v1h-1zM514 468h1v1h-1zM515 467h1v1h-1zM516 465h1v2h-1zM517 464h1v1h-1zM524 460h1v1h-1zM525 459h1v1h-1zM526 458h1v1h-1zM527 457h1v1h-1zM528 456h1v1h-1zM533 453h1v1h-1zM534 452h1v1h-1zM537 450h1v1h-1zM538 449h1v1h-1zM549 447h1v1h-1zM550 448h1v1h-1zM551 449h1v1h-1zM552 450h1v1h-1zM559 453h1v1h-1zM560 454h1v1h-1zM561 455h1v2h-1zM562 457h1v1h-1zM563 458h1v1h-1zM564 459h1v2h-1zM565 461h1v2h-1zM566 463h1v2h-1zM567 465h1v2h-1zM568 467h1v3h-1zM569 470h1v3h-1zM570 473h1v3h-1zM571 476h1v3h-1zM572 479h1v3h-1zM573 482h1v3h-1zM574 485h1v4h-1zM575 489h1v3h-1zM576 492h1v3h-1zM577 495h1v4h-1zM578 499h1v3h-1zM579 502h1v2h-1zM580 504h1v2h-1zM581 506h1v2h-1zM582 508h1v2h-1zM583 510h1v2h-1zM584 512h1v2h-1zM585 514h1v1h-1zM586 515h1v1h-1zM587 516h1v2h-1zM594 515h1v1h-1zM595 514h1v1h-1zM596 513h1v1h-1zM597 512h1v1h-1zM598 511h1v1h-1zM603 508h1v1h-1zM604 506h1v2h-1zM605 505h1v1h-1zM606 504h1v1h-1zM607 502h1v2h-1zM608 501h1v1h-1zM609 499h1v2h-1zM610 498h1v1h-1zM611 497h1v1h-1zM612 495h1v2h-1z" fill="#2f86ff" shape-rendering="crispEdges"/>
<text x="92.5" y="539.6" font-size="12" fill="#111">RSI(14,14,14)</text>
<text x="171.5" y="539.6" font-size="12" fill="#3d8ef0">RSI1:40.6390</text>
<text x="253.5" y="539.6" font-size="12" fill="#52c48c">RSI2:40.6390</text>
<text x="335.5" y="539.6" font-size="12" fill="#3fb0ea">RSI3:40.6390</text>
<text x="417" y="539.6" font-size="12" fill="#b2b5b9">L20:20.0000</text>
<text x="493.5" y="539.6" font-size="12" fill="#b2b5b9">L30:30.0000</text>
<text x="569.5" y="539.6" font-size="12" fill="#b2b5b9">L50:</text>
<rect x="93" y="548" width="540" height="1" fill="#b9b9b9" shape-rendering="crispEdges"/>
<rect x="93" y="563" width="540" height="1" fill="#b9b9b9" shape-rendering="crispEdges"/>
<rect x="93" y="593" width="540" height="1" fill="#b9b9b9" shape-rendering="crispEdges"/>
<rect x="93" y="623" width="540" height="1" fill="#b9b9b9" shape-rendering="crispEdges"/>
<rect x="93" y="637" width="540" height="1" fill="#b9b9b9" shape-rendering="crispEdges"/>
<text x="87.2" y="551.2" font-size="12" letter-spacing=".2" fill="#33334d" text-anchor="end">80.0000</text><text x="664.4" y="551.2" font-size="12" letter-spacing=".2" fill="#33334d">80.0000</text>
<text x="87.2" y="580.9" font-size="12" letter-spacing=".2" fill="#33334d" text-anchor="end">60.0000</text><text x="664.4" y="580.9" font-size="12" letter-spacing=".2" fill="#33334d">60.0000</text>
<rect x="87" y="577" width="3" height="1" fill="#c6d0da" shape-rendering="crispEdges"/><rect x="662" y="577" width="3" height="1" fill="#c6d0da" shape-rendering="crispEdges"/>
<text x="87.2" y="610.9" font-size="12" letter-spacing=".2" fill="#33334d" text-anchor="end">40.0000</text><text x="664.4" y="610.9" font-size="12" letter-spacing=".2" fill="#33334d">40.0000</text>
<rect x="87" y="607" width="3" height="1" fill="#c6d0da" shape-rendering="crispEdges"/><rect x="662" y="607" width="3" height="1" fill="#c6d0da" shape-rendering="crispEdges"/>
<g shape-rendering="crispEdges"><rect x="89" y="554" width="1" height="1" fill="#cdd6df"/><rect x="662" y="554" width="1" height="1" fill="#cdd6df"/><rect x="89" y="560" width="1" height="1" fill="#cdd6df"/><rect x="662" y="560" width="1" height="1" fill="#cdd6df"/><rect x="89" y="566" width="1" height="1" fill="#cdd6df"/><rect x="662" y="566" width="1" height="1" fill="#cdd6df"/><rect x="89" y="572" width="1" height="1" fill="#cdd6df"/><rect x="662" y="572" width="1" height="1" fill="#cdd6df"/><rect x="89" y="583" width="1" height="1" fill="#cdd6df"/><rect x="662" y="583" width="1" height="1" fill="#cdd6df"/><rect x="89" y="589" width="1" height="1" fill="#cdd6df"/><rect x="662" y="589" width="1" height="1" fill="#cdd6df"/><rect x="89" y="595" width="1" height="1" fill="#cdd6df"/><rect x="662" y="595" width="1" height="1" fill="#cdd6df"/><rect x="89" y="601" width="1" height="1" fill="#cdd6df"/><rect x="662" y="601" width="1" height="1" fill="#cdd6df"/><rect x="89" y="613" width="1" height="1" fill="#cdd6df"/><rect x="662" y="613" width="1" height="1" fill="#cdd6df"/><rect x="89" y="619" width="1" height="1" fill="#cdd6df"/><rect x="662" y="619" width="1" height="1" fill="#cdd6df"/><rect x="89" y="625" width="1" height="1" fill="#cdd6df"/><rect x="662" y="625" width="1" height="1" fill="#cdd6df"/><rect x="89" y="631" width="1" height="1" fill="#cdd6df"/><rect x="662" y="631" width="1" height="1" fill="#cdd6df"/></g>
<path d="M278 563h3v1h-3zM281 564h3v1h-3zM275 565h2v1h-2zM272 567h2v1h-2zM270 568h2v1h-2zM268 569h2v1h-2zM187 570h2v1h-2zM266 570h2v1h-2zM336 570h5v1h-5zM264 571h2v1h-2zM333 571h3v1h-3zM341 571h8v1h-8zM538 573h6v1h-6zM182 576h2v1h-2zM199 576h2v1h-2zM180 577h2v1h-2zM201 577h2v1h-2zM178 578h2v1h-2zM530 578h2v1h-2zM193 579h2v1h-2zM290 579h2v1h-2zM296 580h3v1h-3zM293 581h3v1h-3zM299 581h2v1h-2zM228 582h3v1h-3zM301 582h2v1h-2zM326 582h2v1h-2zM231 583h14v1h-14zM303 583h3v1h-3zM324 583h2v1h-2zM523 583h2v1h-2zM225 584h2v1h-2zM245 584h2v1h-2zM306 584h3v1h-3zM510 584h2v1h-2zM247 585h2v1h-2zM249 586h2v1h-2zM221 587h2v1h-2zM251 587h2v1h-2zM219 588h2v1h-2zM505 588h2v1h-2zM216 590h2v1h-2zM316 590h2v1h-2zM148 591h3v1h-3zM214 591h2v1h-2zM314 591h2v1h-2zM358 591h7v1h-7zM151 592h4v1h-4zM161 592h2v1h-2zM365 592h2v1h-2zM155 593h2v1h-2zM159 593h2v1h-2zM165 593h2v1h-2zM367 593h2v1h-2zM157 594h2v1h-2zM369 594h2v1h-2zM557 594h2v1h-2zM371 595h2v1h-2zM374 597h2v1h-2zM376 598h2v1h-2zM402 598h2v1h-2zM400 599h2v1h-2zM495 599h2v1h-2zM553 599h2v1h-2zM599 599h2v1h-2zM605 599h2v1h-2zM497 600h2v1h-2zM601 600h2v1h-2zM123 601h3v1h-3zM126 602h3v1h-3zM482 603h7v1h-7zM388 604h2v1h-2zM480 604h2v1h-2zM390 605h2v1h-2zM478 605h2v1h-2zM392 606h2v1h-2zM623 607h11v1h-11zM383 610h2v1h-2zM437 610h2v1h-2zM435 611h2v1h-2zM433 612h2v1h-2zM468 612h3v1h-3zM471 613h3v1h-3zM103 614h2v1h-2zM417 616h3v1h-3zM457 616h4v1h-4zM415 617h2v1h-2zM420 617h2v1h-2zM455 617h2v1h-2zM461 617h3v1h-3zM413 618h2v1h-2zM422 618h3v1h-3zM453 618h2v1h-2zM425 619h2v1h-2zM427 620h2v1h-2zM583 624h6v1h-6zM93 600h1v1h-1zM94 601h1v1h-1zM95 602h1v1h-1zM96 603h1v1h-1zM97 604h1v1h-1zM98 605h1v1h-1zM99 606h1v2h-1zM100 608h1v2h-1zM101 610h1v2h-1zM102 612h1v2h-1zM103 615h1v1h-1zM104 613h1v1h-1zM105 611h1v2h-1zM106 609h1v2h-1zM107 607h1v2h-1zM108 606h1v1h-1zM109 605h1v1h-1zM110 604h1v1h-1zM111 602h1v2h-1zM112 601h1v1h-1zM113 600h1v1h-1zM114 599h1v1h-1zM115 598h1v1h-1zM116 597h1v1h-1zM117 596h1v1h-1zM118 595h1v1h-1zM119 596h1v1h-1zM120 597h1v1h-1zM121 598h1v2h-1zM122 600h1v1h-1zM128 601h1v1h-1zM129 599h1v2h-1zM130 597h1v2h-1zM131 594h1v3h-1zM132 592h1v2h-1zM133 590h1v2h-1zM134 588h1v2h-1zM135 586h1v2h-1zM136 584h1v2h-1zM137 582h1v2h-1zM138 581h1v1h-1zM139 582h1v1h-1zM140 583h1v1h-1zM141 584h1v1h-1zM142 585h1v1h-1zM143 586h1v1h-1zM144 587h1v1h-1zM145 588h1v1h-1zM146 589h1v1h-1zM147 590h1v1h-1zM163 591h1v1h-1zM164 592h1v1h-1zM167 594h1v1h-1zM168 595h1v1h-1zM169 593h1v2h-1zM170 591h1v2h-1zM171 589h1v2h-1zM172 587h1v2h-1zM173 586h1v1h-1zM174 584h1v2h-1zM175 583h1v1h-1zM176 581h1v2h-1zM177 579h1v2h-1zM184 574h1v2h-1zM185 573h1v1h-1zM186 572h1v1h-1zM187 571h1v1h-1zM188 569h1v1h-1zM189 571h1v2h-1zM190 573h1v2h-1zM191 575h1v2h-1zM192 577h1v2h-1zM193 580h1v1h-1zM195 578h1v1h-1zM196 577h1v1h-1zM197 576h1v1h-1zM198 575h1v1h-1zM203 578h1v1h-1zM204 579h1v2h-1zM205 581h1v1h-1zM206 582h1v1h-1zM207 583h1v2h-1zM208 585h1v1h-1zM209 586h1v2h-1zM210 588h1v1h-1zM211 589h1v1h-1zM212 590h1v2h-1zM213 592h1v1h-1zM218 589h1v1h-1zM223 586h1v1h-1zM224 585h1v1h-1zM227 583h1v1h-1zM253 588h1v1h-1zM254 586h1v2h-1zM255 584h1v2h-1zM256 582h1v2h-1zM257 580h1v2h-1zM258 578h1v2h-1zM259 577h1v1h-1zM260 576h1v1h-1zM261 574h1v2h-1zM262 573h1v1h-1zM263 572h1v1h-1zM274 566h1v1h-1zM277 564h1v1h-1zM283 565h1v1h-1zM284 566h1v2h-1zM285 568h1v3h-1zM286 571h1v3h-1zM287 574h1v2h-1zM288 576h1v2h-1zM289 578h1v1h-1zM292 580h1v1h-1zM309 585h1v2h-1zM310 587h1v1h-1zM311 588h1v2h-1zM312 590h1v2h-1zM313 592h1v1h-1zM318 589h1v1h-1zM319 588h1v1h-1zM320 587h1v1h-1zM321 586h1v1h-1zM322 585h1v1h-1zM323 584h1v1h-1zM328 581h1v1h-1zM329 579h1v2h-1zM330 577h1v2h-1zM331 575h1v2h-1zM332 573h1v2h-1zM333 572h1v1h-1zM348 572h1v1h-1zM349 573h1v2h-1zM350 575h1v3h-1zM351 578h1v3h-1zM352 581h1v2h-1zM353 583h1v2h-1zM354 585h1v2h-1zM355 587h1v1h-1zM356 588h1v1h-1zM357 589h1v2h-1zM373 596h1v1h-1zM378 599h1v2h-1zM379 601h1v2h-1zM380 603h1v2h-1zM381 605h1v3h-1zM382 608h1v2h-1zM383 611h1v1h-1zM384 609h1v1h-1zM385 608h1v1h-1zM386 607h1v1h-1zM387 605h1v2h-1zM394 605h1v1h-1zM395 604h1v1h-1zM396 603h1v1h-1zM397 602h1v1h-1zM398 601h1v1h-1zM399 600h1v1h-1zM403 597h1v1h-1zM404 599h1v3h-1zM405 602h1v3h-1zM406 605h1v3h-1zM407 608h1v3h-1zM408 611h1v2h-1zM409 613h1v1h-1zM410 614h1v1h-1zM411 615h1v2h-1zM412 617h1v1h-1zM429 618h1v2h-1zM430 617h1v1h-1zM431 615h1v2h-1zM432 613h1v2h-1zM439 608h1v2h-1zM440 606h1v2h-1zM441 604h1v2h-1zM442 602h1v2h-1zM443 600h1v2h-1zM444 602h1v2h-1zM445 604h1v2h-1zM446 606h1v2h-1zM447 608h1v2h-1zM448 610h1v2h-1zM449 612h1v2h-1zM450 614h1v1h-1zM451 615h1v1h-1zM452 616h1v2h-1zM464 616h1v1h-1zM465 615h1v1h-1zM466 614h1v1h-1zM467 613h1v1h-1zM474 611h1v2h-1zM475 610h1v1h-1zM476 608h1v2h-1zM477 606h1v2h-1zM489 602h1v1h-1zM490 601h1v1h-1zM491 599h1v2h-1zM492 598h1v1h-1zM493 597h1v1h-1zM494 598h1v1h-1zM498 601h1v1h-1zM499 598h1v2h-1zM500 596h1v2h-1zM501 594h1v2h-1zM502 592h1v2h-1zM503 590h1v2h-1zM504 589h1v1h-1zM507 587h1v1h-1zM508 586h1v1h-1zM509 585h1v1h-1zM512 583h1v1h-1zM513 582h1v1h-1zM514 580h1v2h-1zM515 579h1v1h-1zM516 577h1v2h-1zM517 575h1v2h-1zM518 574h1v1h-1zM519 575h1v2h-1zM520 577h1v2h-1zM521 579h1v2h-1zM522 581h1v2h-1zM523 584h1v1h-1zM524 582h1v1h-1zM525 581h1v1h-1zM526 579h1v2h-1zM527 577h1v2h-1zM528 576h1v1h-1zM529 577h1v1h-1zM532 579h1v1h-1zM533 580h1v1h-1zM534 578h1v2h-1zM535 577h1v1h-1zM536 576h1v1h-1zM537 574h1v2h-1zM544 574h1v2h-1zM545 576h1v2h-1zM546 578h1v2h-1zM547 580h1v2h-1zM548 582h1v3h-1zM549 585h1v4h-1zM550 589h1v3h-1zM551 592h1v3h-1zM552 595h1v4h-1zM553 600h1v1h-1zM554 598h1v1h-1zM555 597h1v1h-1zM556 596h1v1h-1zM557 595h1v1h-1zM558 593h1v1h-1zM559 595h1v2h-1zM560 597h1v2h-1zM561 599h1v2h-1zM562 601h1v2h-1zM563 603h1v3h-1zM564 606h1v3h-1zM565 609h1v2h-1zM566 611h1v3h-1zM567 614h1v3h-1zM568 617h1v2h-1zM569 619h1v1h-1zM570 620h1v1h-1zM571 621h1v2h-1zM572 623h1v1h-1zM573 624h1v2h-1zM574 626h1v2h-1zM575 628h1v2h-1zM576 630h1v3h-1zM577 633h1v2h-1zM578 635h1v2h-1zM579 633h1v2h-1zM580 631h1v2h-1zM581 628h1v3h-1zM582 626h1v2h-1zM583 625h1v1h-1zM588 623h1v1h-1zM589 619h1v4h-1zM590 615h1v4h-1zM591 611h1v4h-1zM592 607h1v4h-1zM593 605h1v2h-1zM594 603h1v2h-1zM595 602h1v1h-1zM596 601h1v1h-1zM597 599h1v2h-1zM598 598h1v1h-1zM603 601h1v1h-1zM604 600h1v1h-1zM607 598h1v1h-1zM608 597h1v1h-1zM609 596h1v1h-1zM610 595h1v1h-1zM611 593h1v2h-1zM612 592h1v1h-1zM613 591h1v1h-1zM614 592h1v1h-1zM615 593h1v1h-1zM616 594h1v1h-1zM617 595h1v1h-1zM618 596h1v2h-1zM619 598h1v2h-1zM620 600h1v2h-1zM621 602h1v2h-1zM622 604h1v2h-1zM623 606h1v1h-1z" fill="#2aa5e4" shape-rendering="crispEdges"/>
<g shape-rendering="crispEdges"><rect x="27" y="529" width="4" height="1" fill="#000"/><rect x="26" y="530" width="1" height="1" fill="#000"/><rect x="31" y="530" width="1" height="1" fill="#000"/><rect x="25" y="531" width="1" height="4" fill="#000"/><rect x="32" y="531" width="1" height="4" fill="#000"/><rect x="26" y="535" width="1" height="1" fill="#000"/><rect x="31" y="535" width="1" height="1" fill="#000"/><rect x="27" y="536" width="4" height="1" fill="#000"/><rect x="28" y="531" width="2" height="1" fill="#f00"/><rect x="27" y="532" width="4" height="2" fill="#f00"/><rect x="28" y="534" width="2" height="1" fill="#f00"/><rect x="28" y="526" width="1" height="2" fill="#f00"/><rect x="28" y="538" width="1" height="2" fill="#f00"/><rect x="22" y="532" width="2" height="1" fill="#f00"/><rect x="34" y="532" width="2" height="1" fill="#f00"/><rect x="23" y="527" width="1" height="1" fill="#f00"/><rect x="24" y="528" width="1" height="1" fill="#f00"/><rect x="34" y="527" width="1" height="1" fill="#f00"/><rect x="33" y="528" width="1" height="1" fill="#f00"/><rect x="24" y="537" width="1" height="1" fill="#f00"/><rect x="23" y="538" width="1" height="1" fill="#f00"/><rect x="33" y="537" width="1" height="1" fill="#f00"/><rect x="34" y="538" width="1" height="1" fill="#f00"/></g>
<rect x="158" y="638" width="1" height="5" fill="#c9d3dd" shape-rendering="crispEdges"/>
<text x="160.4" y="651" font-size="12" font-weight="bold" letter-spacing=".2" fill="#1c1c30">2025/10</text>
<rect x="273" y="638" width="1" height="5" fill="#c9d3dd" shape-rendering="crispEdges"/>
<text x="275.4" y="651" font-size="12" font-weight="bold" letter-spacing=".2" fill="#1c1c30">2025/11</text>
<rect x="373" y="638" width="1" height="5" fill="#c9d3dd" shape-rendering="crispEdges"/>
<text x="375.4" y="651" font-size="12" font-weight="bold" letter-spacing=".2" fill="#1c1c30">2025/12</text>
<rect x="488" y="638" width="1" height="5" fill="#c9d3dd" shape-rendering="crispEdges"/>
<text x="490.4" y="651" font-size="12" font-weight="bold" letter-spacing=".2" fill="#1c1c30">2026/01</text>
<rect x="598" y="638" width="1" height="5" fill="#c9d3dd" shape-rendering="crispEdges"/>
<text x="600.4" y="651" font-size="12" font-weight="bold" letter-spacing=".2" fill="#1c1c30">2026/02</text>
<rect x="20" y="638" width="70" height="1" fill="#dde1e8" shape-rendering="crispEdges"/>
<text x="32.96" y="653.78" font-family="'Liberation Sans','Noto Sans CJK SC',sans-serif" font-size="12.6" font-weight="bold" fill="#ff7a14">日</text>
<text x="46.03" y="654.32" font-family="'Liberation Sans','Noto Sans CJK SC',sans-serif" font-size="13.4" font-weight="bold" fill="#ff7a14">线</text>
<path d="M68.8 644.6l4.4 8.5h-8.8z" fill="#ff7a14"/>
<g font-size="30.6" letter-spacing="2.15" opacity=".9"><text x="602" y="632.5" fill="#8f8379" opacity=".55">FX678</text><text x="600.9" y="631.4" fill="#d8e5f5">FX678</text></g>
</svg>
</body></html>
